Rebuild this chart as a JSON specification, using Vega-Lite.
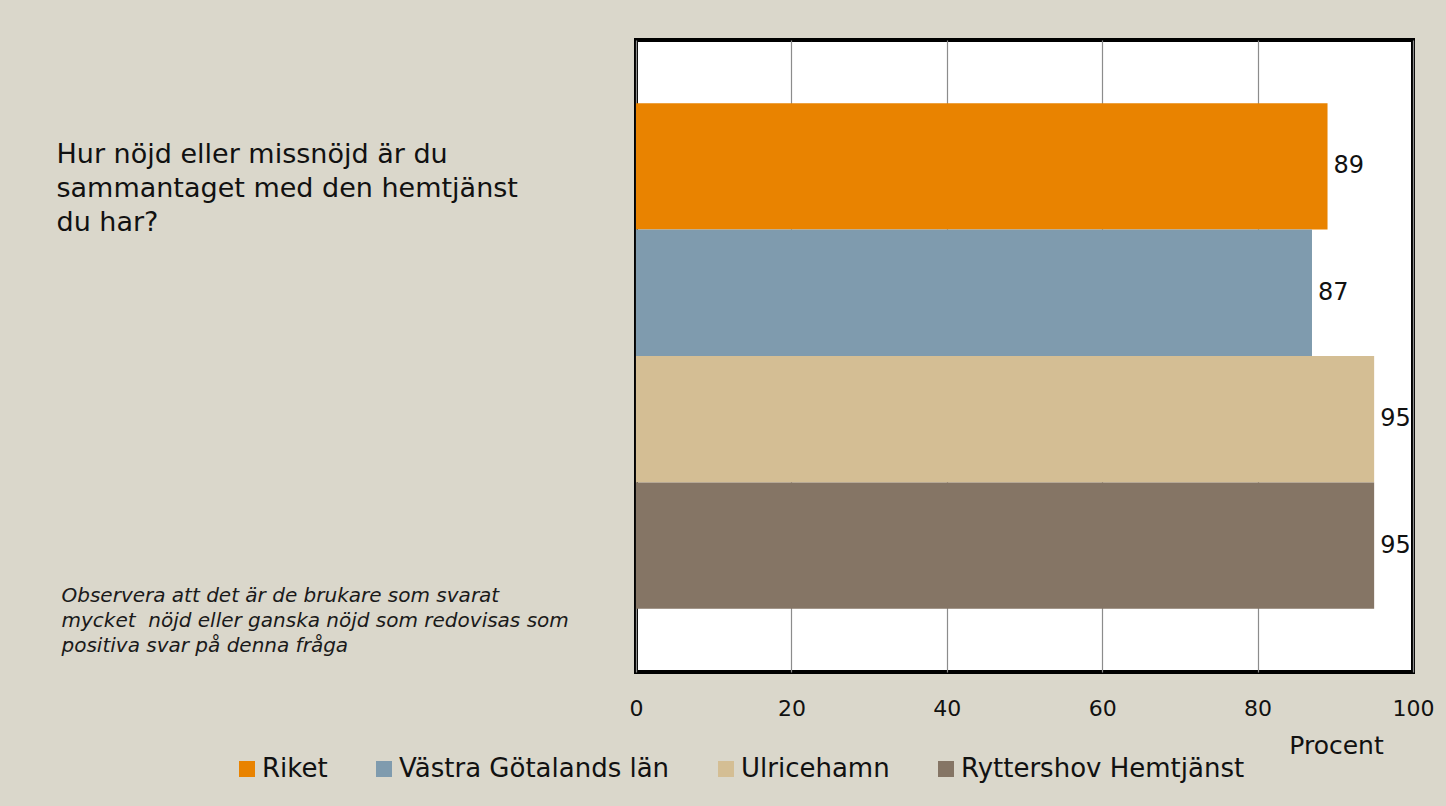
{
  "$schema": "https://vega.github.io/schema/vega-lite/v6.json",
  "autosize": {"type": "none"},
  "width": 777,
  "height": 632,
  "padding": {"left": 636, "top": 40, "right": 33, "bottom": 134},
  "background": "#DAD7CB",
  "config": {
    "font": "DejaVu Sans",
    "view": {"fill": "white", "stroke": "black", "strokeWidth": 4}
  },
  "data": {
    "values": [
      {"fraga": "Hur nöjd eller missnöjd är du|sammantaget med den hemtjänst|du har?", "serie": "Riket", "procent": 89},
      {"fraga": "Hur nöjd eller missnöjd är du|sammantaget med den hemtjänst|du har?", "serie": "Västra Götalands län", "procent": 87},
      {"fraga": "Hur nöjd eller missnöjd är du|sammantaget med den hemtjänst|du har?", "serie": "Ulricehamn", "procent": 95},
      {"fraga": "Hur nöjd eller missnöjd är du|sammantaget med den hemtjänst|du har?", "serie": "Ryttershov Hemtjänst", "procent": 95}
    ]
  },
  "encoding": {
    "y": {
      "field": "fraga",
      "type": "nominal",
      "scale": {"paddingInner": 0.2, "paddingOuter": 0.1},
      "axis": {
        "title": ["Observera att det är de brukare som svarat", "mycket \u00a0nöjd eller ganska nöjd som redovisas som", "positiva svar på denna fråga"],
        "titleAngle": 0,
        "titleAlign": "left",
        "titleBaseline": "top",
        "titleX": -575,
        "titleY": 545,
        "titleFont": "DejaVu Sans",
        "titleFontStyle": "italic",
        "titleFontWeight": "normal",
        "titleFontSize": 20,
        "titleLineHeight": 25,
        "titleColor": "#1a1a1a",
        "labelExpr": "split(datum.label, '|')",
        "labelAlign": "left",
        "labelBaseline": "top",
        "labelPadding": 580,
        "labelOffset": -214,
        "labelFontSize": 27,
        "labelLineHeight": 34,
        "labelLimit": 0,
        "labelColor": "#111",
        "domain": false,
        "ticks": false,
        "grid": false
      }
    },
    "yOffset": {
      "field": "serie",
      "type": "nominal",
      "sort": ["Riket", "Västra Götalands län", "Ulricehamn", "Ryttershov Hemtjänst"],
      "scale": {"paddingInner": 0, "paddingOuter": 0}
    },
    "x": {
      "field": "procent",
      "type": "quantitative",
      "scale": {"domain": [0, 100], "nice": false},
      "axis": {
        "values": [0, 20, 40, 60, 80, 100],
        "title": "Procent",
        "titleX": 700,
        "titleY": 61,
        "titleAlign": "center",
        "titleBaseline": "top",
        "titleFontSize": 25,
        "titleFontWeight": "normal",
        "titleColor": "#111",
        "labelFontSize": 22,
        "labelPadding": 26,
        "labelColor": "#111",
        "labelFlush": false,
        "domain": false,
        "ticks": false,
        "grid": true,
        "gridColor": "#8c8c8c",
        "gridWidth": 1.2
      }
    }
  },
  "layer": [
    {
      "mark": {"type": "bar"},
      "encoding": {
        "color": {
          "field": "serie",
          "type": "nominal",
          "sort": ["Riket", "Västra Götalands län", "Ulricehamn", "Ryttershov Hemtjänst"],
          "scale": {
            "domain": ["Riket", "Västra Götalands län", "Ulricehamn", "Ryttershov Hemtjänst"],
            "range": ["#E98300", "#7F9BAE", "#D4BE94", "#857565"]
          },
          "legend": {
            "title": null,
            "orient": "none",
            "legendX": -402,
            "legendY": 716,
            "direction": "horizontal",
            "symbolType": "square",
            "symbolSize": 256,
            "symbolStrokeWidth": 0,
            "symbolOpacity": 1,
            "labelFontSize": 26,
            "labelColor": "#111",
            "labelOffset": 2,
            "columnPadding": 43,
            "labelLimit": 0
          }
        }
      }
    },
    {
      "mark": {"type": "text", "align": "left", "baseline": "middle", "dx": 6, "fontSize": 24, "color": "#111"},
      "encoding": {
        "text": {"field": "procent", "type": "quantitative"}
      }
    }
  ]
}
